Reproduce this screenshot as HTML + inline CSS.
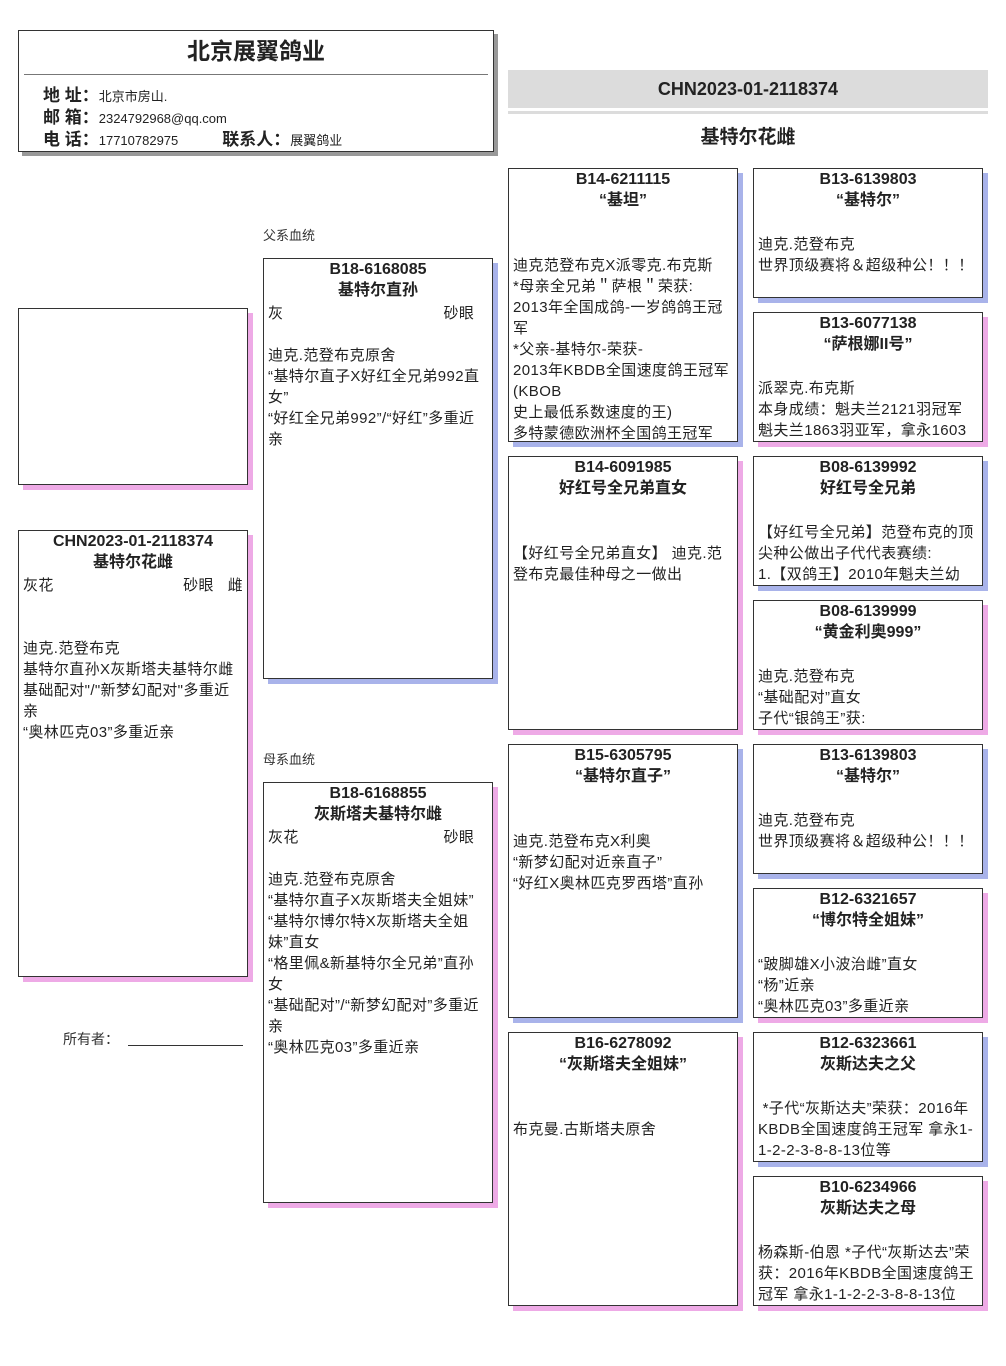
<!DOCTYPE html>
<html><head><meta charset="utf-8"><style>
body{margin:0;width:1006px;height:1366px;background:#fff;position:relative;font-family:"Liberation Sans","Noto Sans CJK SC",sans-serif;color:#222;overflow:hidden}
.b{position:absolute;border:1px solid #333;background:#fff;overflow:hidden;box-sizing:border-box;font-size:15px;line-height:21px}
.m{box-shadow:5px 5px 0 #a9b3ea}
.f{box-shadow:5px 5px 0 #eeaae6}
.h{text-align:center;font-weight:bold;font-size:16px;line-height:21px}
.t{padding:2px 4px 0 4px;letter-spacing:0.4px}
.a{position:absolute;font-size:13px;color:#333}
</style></head><body>
<div class="b" style="left:18px;top:30px;width:476px;height:122px;box-shadow:4px 4px 0 #999">
<div style="text-align:center;font-weight:bold;font-size:23px;margin-top:10px">北京展翼鸽业</div>
<div style="position:absolute;left:5px;right:5px;top:43px;border-top:1px solid #777"></div>
<div style="position:absolute;left:24px;top:54px;font-size:13px;line-height:21px">
<div><b style="font-size:17px">地 址：</b>北京市房山.</div>
<div><b style="font-size:17px">邮 箱：</b>2324792968@qq.com</div>
<div><b style="font-size:17px">电 话：</b>17710782975<span style="display:inline-block;width:44px"></span><b style="font-size:17px">联系人：</b>展翼鸽业</div>
</div></div>
<div style="position:absolute;left:508px;top:70px;width:480px;height:38px;background:#dcdcdc;text-align:center;font-weight:bold;font-size:18px;line-height:38px">CHN2023-01-2118374</div>
<div style="position:absolute;left:508px;top:111px;width:480px;border-top:3px solid #dcdcdc"></div>
<div style="position:absolute;left:508px;top:122px;width:480px;text-align:center;font-weight:bold;font-size:19px">基特尔花雌</div>

<div class="b f" style="left:18px;top:308px;width:230px;height:177px"></div>
<div class="b f" style="left:18px;top:530px;width:230px;height:447px"><div class="h">CHN2023-01-2118374<br>基特尔花雌</div><div class="t">灰花<span style="float:right">砂眼&nbsp;&nbsp;&nbsp;雌</span><br><br><br>迪克.范登布克<br>基特尔直孙X灰斯塔夫基特尔雌<br>基础配对"/"新梦幻配对"多重近亲<br>“奥林匹克03”多重近亲</div></div>
<div class="a" style="left:63px;top:1029px;font-size:14px">所有者：</div>
<div style="position:absolute;left:128px;top:1045px;width:115px;border-top:1px solid #333"></div>

<div class="a" style="left:263px;top:225px">父系血统</div>
<div class="b m" style="left:263px;top:258px;width:230px;height:421px"><div class="h">B18-6168085<br>基特尔直孙</div><div class="t">灰<span style="float:right">砂眼&nbsp;&nbsp;&nbsp;</span><br><br>迪克.范登布克原舍<br>“基特尔直子X好红全兄弟992直女”<br>“好红全兄弟992”/“好红”多重近亲</div></div>
<div class="a" style="left:263px;top:749px">母系血统</div>
<div class="b f" style="left:263px;top:782px;width:230px;height:421px"><div class="h">B18-6168855<br>灰斯塔夫基特尔雌</div><div class="t">灰花<span style="float:right">砂眼&nbsp;&nbsp;&nbsp;</span><br><br>迪克.范登布克原舍<br>“基特尔直子X灰斯塔夫全姐妹”<br>“基特尔博尔特X灰斯塔夫全姐妹”直女<br>“格里佩&新基特尔全兄弟”直孙女<br>“基础配对”/“新梦幻配对”多重近亲<br>“奥林匹克03”多重近亲</div></div>

<div class="b m" style="left:508px;top:168px;width:230px;height:274px"><div class="h">B14-6211115<br>“基坦”</div><div class="t"><br><br>迪克范登布克X派零克.布克斯<br>*母亲全兄弟＂萨根＂荣获:<br>2013年全国成鸽-一岁鸽鸽王冠军<br>*父亲-基特尔-荣获-<br>2013年KBDB全国速度鸽王冠军(KBOB<br>史上最低系数速度的王)<br>多特蒙德欧洲杯全国鸽王冠军</div></div>
<div class="b f" style="left:508px;top:456px;width:230px;height:274px"><div class="h">B14-6091985<br>好红号全兄弟直女</div><div class="t"><br><br>【好红号全兄弟直女】 迪克.范登布克最佳种母之一做出</div></div>
<div class="b m" style="left:508px;top:744px;width:230px;height:274px"><div class="h">B15-6305795<br>“基特尔直子”</div><div class="t"><br><br>迪克.范登布克X利奥<br>“新梦幻配对近亲直子”<br>“好红X奥林匹克罗西塔”直孙</div></div>
<div class="b f" style="left:508px;top:1032px;width:230px;height:274px"><div class="h">B16-6278092<br>“灰斯塔夫全姐妹”</div><div class="t"><br><br>布克曼.古斯塔夫原舍</div></div>

<div class="b m" style="left:753px;top:168px;width:230px;height:130px"><div class="h">B13-6139803<br>“基特尔”</div><div class="t"><br>迪克.范登布克<br>世界顶级赛将＆超级种公！！！</div></div>
<div class="b f" style="left:753px;top:312px;width:230px;height:130px"><div class="h">B13-6077138<br>“萨根娜II号”</div><div class="t"><br>派翠克.布克斯<br>本身成绩：魁夫兰2121羽冠军<br>魁夫兰1863羽亚军，拿永1603</div></div>
<div class="b m" style="left:753px;top:456px;width:230px;height:130px"><div class="h">B08-6139992<br>好红号全兄弟</div><div class="t"><br>【好红号全兄弟】范登布克的顶尖种公做出子代代表赛绩:<br>1.【双鸽王】2010年魁夫兰幼</div></div>
<div class="b f" style="left:753px;top:600px;width:230px;height:130px"><div class="h">B08-6139999<br>“黄金利奥999”</div><div class="t"><br>迪克.范登布克<br>“基础配对”直女<br>子代“银鸽王”获:</div></div>
<div class="b m" style="left:753px;top:744px;width:230px;height:130px"><div class="h">B13-6139803<br>“基特尔”</div><div class="t"><br>迪克.范登布克<br>世界顶级赛将＆超级种公！！！</div></div>
<div class="b f" style="left:753px;top:888px;width:230px;height:130px"><div class="h">B12-6321657<br>“博尔特全姐妹”</div><div class="t"><br>“跛脚雄X小波治雌”直女<br>“杨”近亲<br>“奥林匹克03”多重近亲</div></div>
<div class="b m" style="left:753px;top:1032px;width:230px;height:130px"><div class="h">B12-6323661<br>灰斯达夫之父</div><div class="t"><br>&nbsp;*子代“灰斯达夫”荣获：2016年KBDB全国速度鸽王冠军 拿永1-1-2-2-3-8-8-13位等</div></div>
<div class="b f" style="left:753px;top:1176px;width:230px;height:130px"><div class="h">B10-6234966<br>灰斯达夫之母</div><div class="t"><br>杨森斯-伯恩 *子代“灰斯达去”荣获：2016年KBDB全国速度鸽王冠军 拿永1-1-2-2-3-8-8-13位</div></div>
</body></html>
